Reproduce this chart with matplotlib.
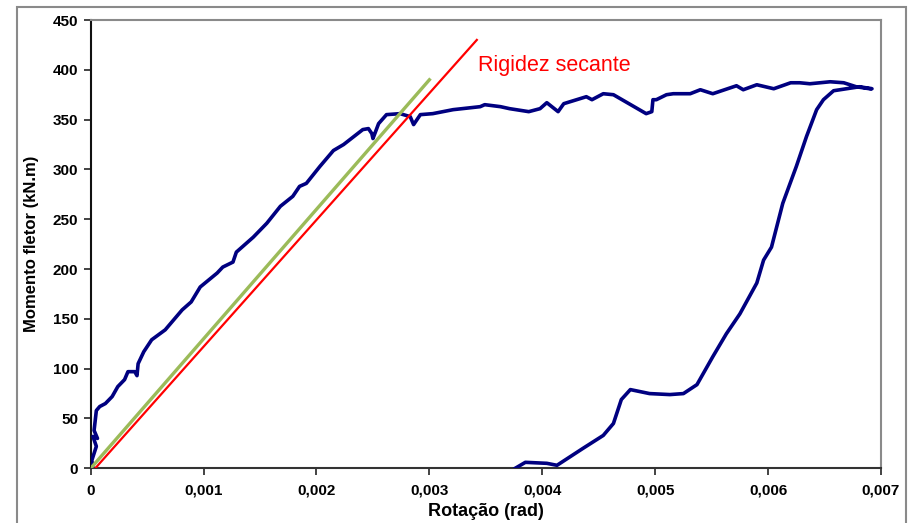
import matplotlib
matplotlib.use("Agg")
import matplotlib.pyplot as plt
from matplotlib.patches import Rectangle
from matplotlib.ticker import FixedLocator

plt.rcParams['font.family'] = ['Liberation Sans', 'DejaVu Sans']

# Blue curve: loading branch followed by return branch (rotation rad, moment kN.m)
rot_load = [0.00002, 0.00001, 0.00005, 0.00002, 0.00006, 0.00003, 0.00004, 0.00005,
            0.00008, 0.00013, 0.00019, 0.00024, 0.00030, 0.00033, 0.00039, 0.00041,
            0.00042, 0.00047, 0.00054, 0.00066, 0.00075, 0.00081, 0.00089, 0.00097,
            0.00112, 0.00117, 0.00126, 0.00129, 0.00144, 0.00156, 0.00168, 0.00179,
            0.00185, 0.00191, 0.00203, 0.00215, 0.00224, 0.00241, 0.00246, 0.00249,
            0.00250, 0.00255, 0.00262, 0.00274, 0.00283, 0.00286, 0.00289, 0.00292,
            0.00303, 0.00321, 0.00345, 0.00349, 0.00363, 0.00371, 0.00388, 0.00398,
            0.00404, 0.00414, 0.00419, 0.00439, 0.00444, 0.00454, 0.00463, 0.00492,
            0.00497, 0.00498, 0.00501, 0.00510, 0.00516, 0.00531, 0.00540, 0.00551,
            0.00572, 0.00578, 0.00590, 0.00605, 0.00620, 0.00628, 0.00637, 0.00655,
            0.00667, 0.00678, 0.00690]
mom_load = [0, 8, 22, 32, 30, 38, 48, 58,
            62, 65, 72, 82, 89, 97, 97, 93,
            105, 117, 129, 139, 151, 159, 167, 182,
            196, 202, 207, 217, 232, 246, 263, 273,
            283, 286, 303, 319, 325, 340, 341, 336,
            331, 346, 355, 356, 353, 345, 350, 355,
            356, 360, 363, 365, 363, 361, 358, 361,
            367, 358, 366, 373, 370, 376, 375, 356,
            358, 370, 370, 375, 376, 376, 380, 376,
            384, 380, 385, 381, 387, 387, 386, 388,
            387, 383, 381]
rot_return = [0.00692, 0.00681, 0.00658, 0.00649, 0.00643, 0.00634, 0.00625, 0.00613,
              0.00603, 0.00596, 0.00590, 0.00575, 0.00563, 0.00551, 0.00537, 0.00525,
              0.00513, 0.00495, 0.00478, 0.00470, 0.00463, 0.00454, 0.00436, 0.00413,
              0.00404, 0.00385, 0.00376]
mom_return = [381, 383, 379, 370, 360, 333, 303, 266,
              222, 209, 186, 155, 135, 112, 84, 75,
              74, 75, 79, 69, 45, 33, 20, 3,
              5, 6, 0]

# Secant stiffness lines
green_rot = [0.0, 0.0030]
green_mom = [0, 390]
red_rot = [0.00004, 0.00342]
red_mom = [0, 430]

x_ticks = [0, 0.001, 0.002, 0.003, 0.004, 0.005, 0.006, 0.007]
x_tick_labels = ['0', '0,001', '0,002', '0,003', '0,004', '0,005', '0,006', '0,007']
y_ticks = [0, 50, 100, 150, 200, 250, 300, 350, 400, 450]

fig = plt.figure(figsize=(9.12, 5.23), dpi=100)
fig.patches.append(Rectangle((17 / 912, -0.2), (906 - 17) / 912, 1.2 - 7 / 523,
                             transform=fig.transFigure, fill=False,
                             edgecolor='#8a8a8a', linewidth=1.5, zorder=0))

ax = fig.add_axes([90.7 / 912, (523 - 468.3) / 523, (881 - 90.7) / 912, (468.3 - 20) / 523])

ax.plot(rot_load + rot_return, mom_load + mom_return, color='#000080', lw=2.6,
        solid_joinstyle='round', zorder=3)
ax.plot(green_rot, green_mom, color='#9BBB59', lw=2.4, zorder=4)
ax.plot(red_rot, red_mom, color='#FF0000', lw=1.6, zorder=5)

ax.text(0.00343, 404, 'Rigidez secante', color='#FF0000', fontsize=15.5,
        va='center', ha='left')

ax.set_xlim(0, 0.007)
ax.set_ylim(0, 450)
ax.xaxis.set_major_locator(FixedLocator(x_ticks))
ax.set_xticklabels(x_tick_labels)
ax.set_yticks(y_ticks)
for lab in ax.get_xticklabels() + ax.get_yticklabels():
    lab.set_fontweight('bold')
    lab.set_fontsize(11)
ax.tick_params(axis='both', direction='out', length=5, width=1.2, color='#222222')
ax.tick_params(axis='x', pad=6)
ax.tick_params(axis='y', pad=4)

ax.spines['left'].set_color('#111111')
ax.spines['bottom'].set_color('#333333')
ax.spines['left'].set_linewidth(1.5)
ax.spines['bottom'].set_linewidth(1.5)
ax.spines['top'].set_color('#8a8a8a')
ax.spines['right'].set_color('#8a8a8a')
ax.spines['top'].set_linewidth(1.5)
ax.spines['right'].set_linewidth(1.5)

ax.set_xlabel('Rotação (rad)', fontsize=13, fontweight='bold', labelpad=4)
ax.set_ylabel('Momento fletor (kN.m)', fontsize=12, fontweight='bold', labelpad=10)

fig.savefig('out.png', dpi=100)
